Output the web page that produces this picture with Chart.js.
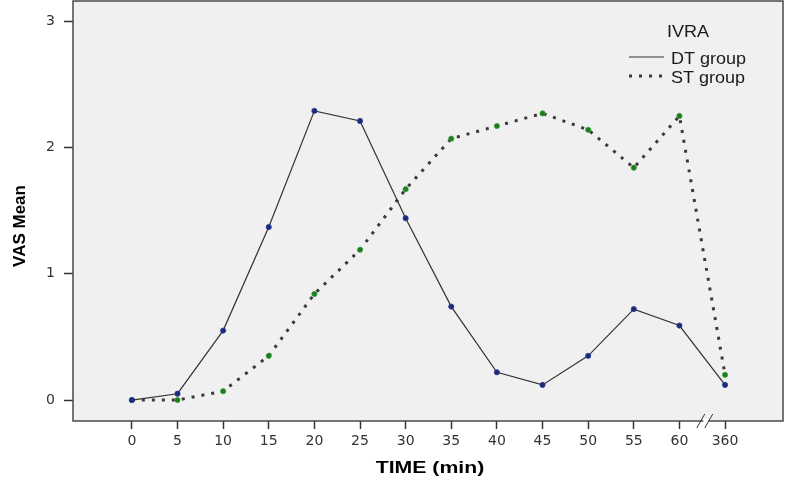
<!DOCTYPE html>
<html>
<head>
<meta charset="utf-8">
<script src="https://cdn.jsdelivr.net/npm/chart.js@4.4.1/dist/chart.umd.min.js"></script>
<style>
  html, body { margin: 0; padding: 0; background: #ffffff; }
  #wrap { width: 785px; height: 477px; position: relative; }
</style>
</head>
<body>
<div id="wrap"><canvas id="c"></canvas></div>
<script>
// ---- data ----
const timeLabels = ['0','5','10','15','20','25','30','35','40','45','50','55','60','360'];
const dtGroup = [0, 0.05, 0.55, 1.37, 2.29, 2.21, 1.44, 0.74, 0.22, 0.12, 0.35, 0.72, 0.59, 0.12];
const stGroup = [0, 0, 0.07, 0.35, 0.84, 1.19, 1.67, 2.07, 2.17, 2.27, 2.14, 1.84, 2.25, 0.20];
const yTicks = [0, 1, 2, 3];
const legendTitle = 'IVRA';
const xTitle = 'TIME (min)';
const yTitle = 'VAS Mean';

const FONT = '"Liberation Sans", Arial, sans-serif';
const TICKFONT = '"DejaVu Sans", "Liberation Sans", sans-serif';

const toPoints = arr => arr.map((v, i) => ({ x: i, y: v }));

function stretchedText(ctx, text, x, y, sx) {
  ctx.save();
  ctx.translate(x, y);
  ctx.scale(sx, 1);
  ctx.fillText(text, 0, 0);
  ctx.restore();
}

const bgPlugin = {
  id: 'plotBg',
  beforeDraw(chart) {
    const { ctx, chartArea: a } = chart;
    ctx.save();
    ctx.fillStyle = '#f0f0f0';
    ctx.fillRect(a.left, a.top, a.right - a.left, a.bottom - a.top);
    ctx.restore();
  },
  afterDraw(chart) {
    const { ctx, chartArea: a, scales } = chart;
    ctx.save();
    // border
    ctx.strokeStyle = '#4a4a4a';
    ctx.lineWidth = 1.5;
    ctx.strokeRect(a.left, a.top, a.right - a.left, a.bottom - a.top);
    // axis break marks between 60 and 360
    const bx = scales.x.getPixelForValue(12.5);
    ctx.fillStyle = '#ffffff';
    ctx.fillRect(bx + 1, a.bottom - 2, 5, 4);
    ctx.strokeStyle = '#333333';
    ctx.lineWidth = 1;
    [-1.5, 6.5].forEach(d => {
      ctx.beginPath();
      ctx.moveTo(bx + d - 4, a.bottom + 7);
      ctx.lineTo(bx + d + 4, a.bottom - 7);
      ctx.stroke();
    });
    // x title
    ctx.fillStyle = '#000000';
    ctx.font = 'bold 17px ' + FONT;
    ctx.textAlign = 'center';
    ctx.textBaseline = 'alphabetic';
    stretchedText(ctx, xTitle, (a.left + a.right) / 2 + 2, 473, 1.25);
    // y title
    ctx.font = 'bold 17px ' + FONT;
    ctx.translate(25, 226);
    ctx.rotate(-Math.PI / 2);
    ctx.fillText(yTitle, 0, 0);
    ctx.restore();
    // legend
    ctx.save();
    ctx.fillStyle = '#1a1a1a';
    ctx.font = '17px ' + FONT;
    ctx.textBaseline = 'alphabetic';
    ctx.textAlign = 'center';
    stretchedText(ctx, legendTitle, 688, 36.5, 1.06);
    ctx.textAlign = 'left';
    chart.data.datasets.forEach((ds, i) => {
      const y = 57 + i * 19;
      ctx.save();
      ctx.strokeStyle = ds.borderColor;
      ctx.lineWidth = ds.borderWidth;
      ctx.setLineDash(ds.borderDash || []);
      ctx.beginPath();
      ctx.moveTo(629, y);
      ctx.lineTo(664, y);
      ctx.stroke();
      ctx.restore();
      stretchedText(ctx, ds.label, 671, y + 6.5, 1.06);
    });
    ctx.restore();
  }
};

new Chart(document.getElementById('c'), {
  type: 'line',
  data: {
    datasets: [
      {
        label: 'DT group',
        data: toPoints(dtGroup),
        borderColor: '#333333',
        borderWidth: 1.2,
        pointRadius: 2.6,
        pointBackgroundColor: '#1c2a78',
        pointBorderColor: '#2a3a9a',
        pointBorderWidth: 0.8,
        tension: 0
      },
      {
        label: 'ST group',
        data: toPoints(stGroup),
        borderColor: '#3a3a3a',
        borderWidth: 3,
        borderDash: [3, 7],
        pointRadius: 2.6,
        pointBackgroundColor: '#1e7a1e',
        pointBorderColor: '#3aa03a',
        pointBorderWidth: 0.8,
        tension: 0
      }
    ]
  },
  options: {
    responsive: true,
    maintainAspectRatio: false,
    animation: false,
    layout: { autoPadding: false, padding: { top: 1, right: 2, left: 0, bottom: 0 } },
    plugins: { legend: { display: false }, tooltip: { enabled: false } },
    scales: {
      x: {
        type: 'linear',
        min: -1.29,
        max: 14.27,
        afterBuildTicks: s => { s.ticks = timeLabels.map((_, i) => ({ value: i })); },
        afterFit: s => { s.height = 56; s.paddingLeft = 0; s.paddingRight = 0; },
        ticks: {
          autoSkip: false,
          maxRotation: 0,
          padding: 4,
          color: '#333333',
          font: { family: TICKFONT, size: 14 },
          callback: v => timeLabels[v]
        },
        grid: { drawOnChartArea: false, drawTicks: true, tickLength: 8, tickColor: '#333333', tickWidth: 1.5 },
        border: { display: false },
        title: { display: false }
      },
      y: {
        type: 'linear',
        min: -0.166,
        max: 3.16,
        afterBuildTicks: s => { s.ticks = yTicks.map(v => ({ value: v })); },
        afterFit: s => { s.width = 73; s.paddingTop = 0; s.paddingBottom = 0; },
        ticks: {
          padding: 9,
          color: '#333333',
          font: { family: TICKFONT, size: 14 }
        },
        grid: { drawOnChartArea: false, drawTicks: true, tickLength: 9, tickColor: '#333333', tickWidth: 1.5 },
        border: { display: false }
      }
    }
  },
  plugins: [bgPlugin]
});
</script>
</body>
</html>
